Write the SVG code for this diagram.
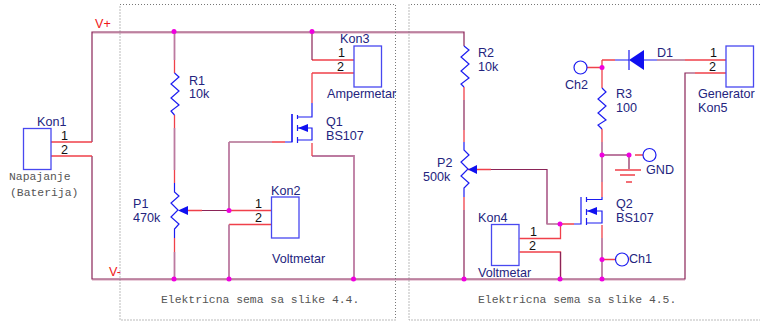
<svg xmlns="http://www.w3.org/2000/svg" width="760" height="321" viewBox="0 0 760 321">
<style>
text{font-family:"Liberation Sans",Arial,sans-serif;font-size:12.6px;fill:#24247e}
.pin{fill:#111}
.rail{fill:#f01818}
.cap{font-family:"Liberation Mono","Courier New",monospace;font-size:11.4px;fill:#555}
.w{fill:none;stroke:#8a2458;stroke-width:1.2}
.u{fill:none;stroke:#e4bfd0;stroke-width:1.2}
.t{fill:none;stroke:#bc7aa0;stroke-width:1.8}
.r{fill:none;stroke:#f0404a;stroke-width:1.3}
.b{fill:none;stroke:#1c1cf0;stroke-width:1.2}
.box{fill:#fff;stroke:#4848f0;stroke-width:1.3}
.ab{fill:#1010f0;stroke:none}
.dot{fill:#f000e0;stroke:none}
.f{fill:none;stroke:#777;stroke-width:1;stroke-dasharray:1 2}
</style>
<rect width="760" height="321" fill="#fff"/>
<g id="connectors">
<path class="u" d="M92 33.200H464M92 280.200H685"/>
<path class="w" d="M92 142V32H464V46M92 156V279H685V73H695"/>
<path class="r" d="M51 142H92M51 156H92"/>
<path class="t" d="M174.500 32V60M174.500 128V170M174.500 252V279"/>
<path class="r" d="M174.500 60V73M174.500 115V128M174.500 170V183M174.500 238V252"/>
<path class="r" d="M188 210.500H202M229 210.500H271M229 224.500H271M312 60H354M312 73H354M312 103V73"/>
<path class="w" d="M202 210.500H229M229 142H272M312 32V60"/>
<path class="t" d="M229 224.500V279M229 210.500V142M312 156H354V279"/>
<path class="r" d="M272 142H285M312 143V156"/>
<path class="r" d="M464 87V100M464 130V142M464 197V210M468 169.500H491M560 224H574M519.500 238.500H560.500V224M519.500 252H560.500V279M602 60H615M685 60H726M695 73H726M602 60V88M602 129V142M602 182V197M602 225V238M602 259.500H615M635 155H643M587 67.500H602"/>
<path class="w" d="M464 100V130M464 210V279M491 169.500H547V224H560M560.500 252V279M657 60H685M629 155V169"/>
<path class="t" d="M547 170V224M602 142V182M602 238V279M602 155H629"/>
</g>
<g id="Kon1"><rect class="box" x="23.500" y="128.500" width="27.500" height="41"/><text x="37" y="126">Kon1</text><text class="pin" x="61" y="140">1</text><text class="pin" x="61" y="154">2</text><text class="cap" x="9" y="180">Napajanje</text><text class="cap" x="10" y="196">(Baterija)</text></g>
<g id="Rails"><text class="rail" x="95" y="28">V+</text><text class="rail" x="109" y="276">V-</text></g>
<g id="R1"><path class="b" d="M174.500 73L179 77L171 84L179 91L171 98L179 105L171 111L174.500 115"/><text x="189" y="85">R1</text><text x="189" y="98">10k</text></g>
<g id="P1"><path class="b" d="M174.500 183V192L179 196L171 203L178 210L171 217L179 224L174.500 229V238"/><path class="ab" d="M178 210.500L188 206V215Z"/><text x="133" y="208">P1</text><text x="133" y="222">470k</text></g>
<g id="Q1"><path class="b" d="M285 142H292V114M297.500 115V119M297.500 125V131M297.500 137V143M297.500 117H312V103M297.500 140H312V128H308M297.500 128H308"/><path class="b" stroke-width="1.600" d="M292 114V142"/><path class="ab" d="M298 128L308 124V132Z"/><text x="326" y="126">Q1</text><text x="326" y="140">BS107</text></g>
<g id="Kon2"><rect class="box" x="271.500" y="197" width="27.500" height="41"/><text x="271" y="195">Kon2</text><text class="pin" x="255" y="208">1</text><text class="pin" x="255" y="222">2</text><text x="272" y="263">Voltmetar</text></g>
<g id="Kon3"><rect class="box" x="354" y="46" width="27.500" height="41"/><text x="340" y="43">Kon3</text><text class="pin" x="338" y="57">1</text><text class="pin" x="337" y="71">2</text><text x="327" y="98">Ampermetar</text></g>
<g id="R2"><path class="b" d="M464 46L469 50L461 57L469 64L461 71L469 78L461 84L464 87"/><text x="478" y="57">R2</text><text x="478" y="71">10k</text></g>
<g id="P2"><path class="b" d="M464 142V150L469 155L461 162L468 169L461 176L469 183L464 188V197"/><path class="ab" d="M468 169.500L477 165V174Z"/><text x="437" y="167">P2</text><text x="423" y="181">500k</text></g>
<g id="Kon4"><rect class="box" x="491.500" y="224.500" width="27.500" height="41"/><text x="478" y="222">Kon4</text><text class="pin" x="530" y="236">1</text><text class="pin" x="529" y="250">2</text><text x="478" y="277">Voltmetar</text></g>
<g id="Q2"><path class="b" d="M574 224H581V197M586.500 197V202M586.500 209V215M586.500 218V225M586.500 199.500H602V197M586.500 223H602V211H597M586.500 211H597"/><path class="ab" d="M587 211L597 207V215Z"/><text x="616" y="208">Q2</text><text x="616" y="222">BS107</text></g>
<g id="R3"><path class="b" d="M602 88L606 92L598 99L606 106L598 113L606 120L598 125L602 129"/><text x="616" y="98">R3</text><text x="616" y="112">100</text></g>
<g id="D1"><path class="b" d="M615 60H629M629 50V70M644 60H657"/><path class="ab" d="M629 60L644 50V70Z"/><text x="657" y="57">D1</text></g>
<g id="Kon5"><rect class="box" x="726" y="46" width="27.500" height="41"/><text class="pin" x="710" y="57">1</text><text class="pin" x="709" y="71">2</text><text x="698" y="98">Generator</text><text x="698" y="112">Kon5</text></g>
<g id="Ch2"><circle class="b" cx="580.500" cy="67.500" r="6.500"/><text x="565" y="89">Ch2</text></g>
<g id="GND"><circle class="b" cx="649.500" cy="155" r="6.500"/><path class="r" d="M615 170H641M620 175H635M626 182H632"/><text x="646" y="174">GND</text></g>
<g id="Ch1"><circle class="b" cx="622" cy="259.500" r="6.500"/><text x="629" y="263">Ch1</text></g>
<g id="junctions">
<circle class="dot" cx="174" cy="31.500" r="2.500"/><circle class="dot" cx="312" cy="31.500" r="2.500"/><circle class="dot" cx="229" cy="210.500" r="2.500"/><circle class="dot" cx="174" cy="279" r="2.500"/><circle class="dot" cx="229" cy="279" r="2.500"/><circle class="dot" cx="353.500" cy="279" r="2.500"/><circle class="dot" cx="464" cy="279" r="2.500"/><circle class="dot" cx="560" cy="224" r="2.500"/><circle class="dot" cx="560" cy="279" r="2.500"/><circle class="dot" cx="602" cy="279" r="2.500"/><circle class="dot" cx="602" cy="259.500" r="2.500"/><circle class="dot" cx="602" cy="155" r="2.500"/><circle class="dot" cx="629" cy="155" r="2.500"/><circle class="dot" cx="602" cy="67.500" r="2.500"/>
</g>
<g id="frames">
<rect class="f" x="120" y="4.500" width="275.500" height="315.500"/>
<path class="f" d="M760 4.500H409V320H760"/>
<text class="cap" x="161" y="303">Elektricna sema sa slike 4.4.</text>
<text class="cap" x="478" y="303">Elektricna sema sa slike 4.5.</text>
</g>
</svg>
